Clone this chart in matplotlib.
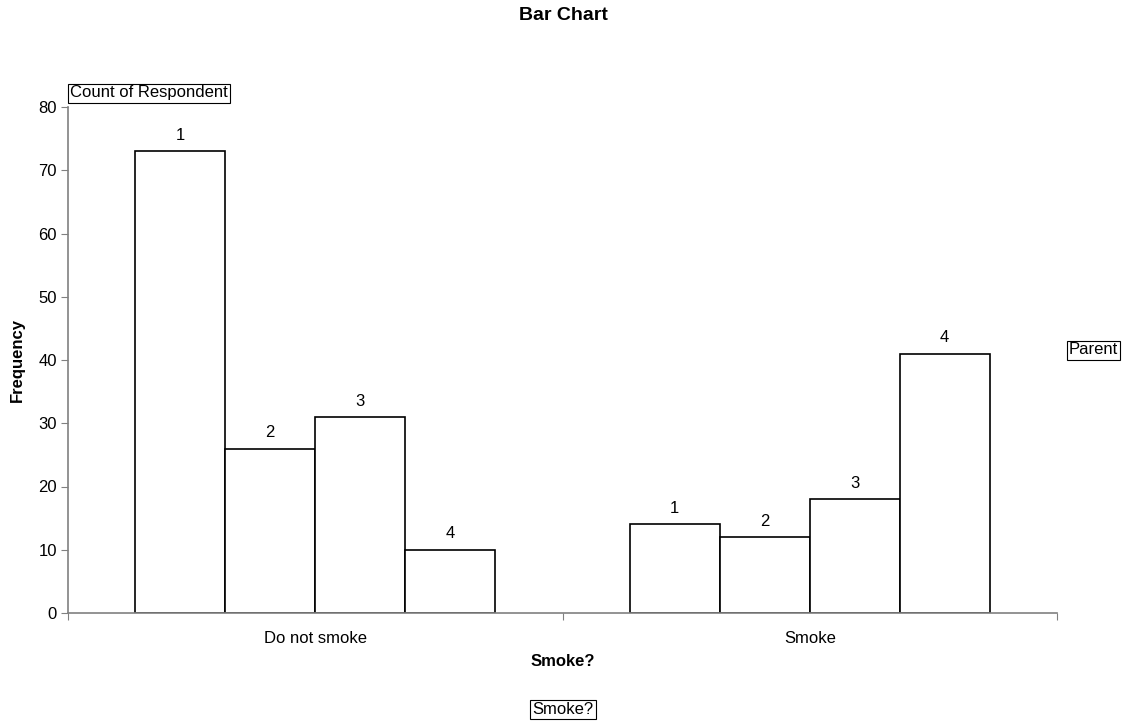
import matplotlib
matplotlib.use("Agg")
import matplotlib.pyplot as plt
import numpy as np

plt.rcParams['font.family'] = ['Liberation Sans', 'DejaVu Sans']

categories = ["Do not smoke", "Smoke"]
parents = ["1", "2", "3", "4"]
values = {
    "1": [73, 14],
    "2": [26, 12],
    "3": [31, 18],
    "4": [10, 41],
}
yticks = [0, 10, 20, 30, 40, 50, 60, 70, 80]

fs = 12
fig = plt.figure(figsize=(11.3, 7.26), dpi=100)
ax = fig.add_axes([68/1130, 1-613/726, (1057-68)/1130, (613-107)/726])

width = 0.182
centers = np.arange(len(categories)) + 0.5
for i, p in enumerate(parents):
    xs = centers + (i - 1.5) * width
    ax.bar(xs, values[p], width=width, color='white', edgecolor='black', linewidth=1.2)
    for x, v in zip(xs, values[p]):
        ax.annotate(p, (x, v), xytext=(0, 6), textcoords='offset points',
                    ha='center', va='bottom', fontsize=fs)

ax.set_xlim(0, len(categories))
ax.set_ylim(0, 80)
ax.set_yticks(yticks)
ax.tick_params(axis='y', direction='out', length=5, color='#808080', labelsize=fs, pad=3)
ax.set_xticks(np.arange(len(categories) + 1))
ax.set_xticklabels([])
ax.set_xticks(centers, minor=True)
ax.set_xticklabels(categories, minor=True)
ax.tick_params(axis='x', which='major', direction='out', length=5, color='#808080')
ax.tick_params(axis='x', which='minor', length=0, labelsize=fs, pad=13)
for s in ['top', 'right']:
    ax.spines[s].set_visible(False)
for s in ['left', 'bottom']:
    ax.spines[s].set_color('#808080')
    ax.spines[s].set_linewidth(1.2)

fig.text(563/1130, 1-15/726, "Bar Chart", ha='center', va='center', fontsize=14, fontweight='bold')
fig.text(17/1130, 1-360/726, "Frequency", ha='center', va='center', rotation=90, fontsize=fs, fontweight='bold')
fig.text(563/1130, 1-661/726, "Smoke?", ha='center', va='center', fontsize=fs, fontweight='bold')
box = dict(boxstyle='square,pad=0.12', facecolor='white', edgecolor='black', linewidth=0.8)
fig.text(563/1130, 1-709/726, "Smoke?", ha='center', va='center', fontsize=fs, bbox=box)
fig.text(1069/1130, 1-350/726, "Parent", ha='left', va='center', fontsize=fs, bbox=box)
fig.text(70/1130, 1-93/726, "Count of Respondent", ha='left', va='center', fontsize=fs, bbox=box)

fig.savefig("out.png", dpi=100)
